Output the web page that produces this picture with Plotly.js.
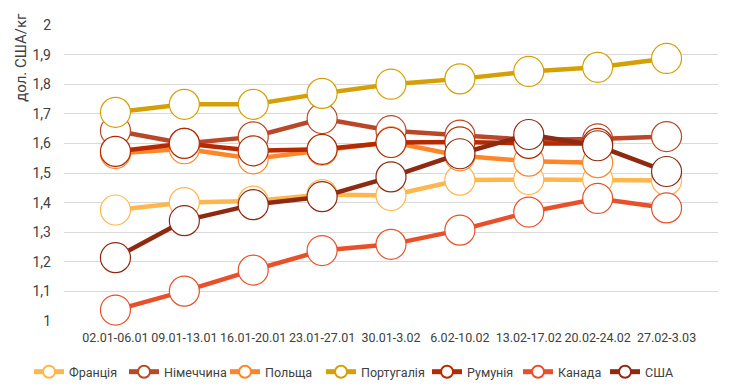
<!DOCTYPE html>
<html>
<head>
<meta charset="utf-8">
<script src="https://cdn.plot.ly/plotly-3.0.1.min.js"></script>
<style>html,body{margin:0;padding:0;background:#fff;}#chart{width:733px;height:390px;}</style>
</head>
<body>
<div id="chart"></div>
<script>
const categories = ["02.01-06.01","09.01-13.01","16.01-20.01","23.01-27.01","30.01-3.02","6.02-10.02","13.02-17.02","20.02-24.02","27.02-3.03"];
const france   = [1.375, 1.400, 1.405, 1.427, 1.424, 1.476, 1.478, 1.478, 1.475];
const germany  = [1.643, 1.600, 1.622, 1.684, 1.643, 1.628, 1.612, 1.615, 1.623];
const poland   = [1.566, 1.582, 1.548, 1.577, 1.605, 1.558, 1.540, 1.535, null];
const portugal = [1.705, 1.732, 1.732, 1.769, 1.800, 1.818, 1.843, 1.857, 1.887];
const romania  = [1.573, 1.600, 1.575, 1.580, 1.603, 1.605, 1.600, 1.600, null];
const canada   = [1.037, 1.101, 1.172, 1.238, 1.259, 1.307, 1.368, 1.414, 1.382];
const usa      = [1.214, 1.339, 1.393, 1.420, 1.487, 1.565, 1.630, 1.592, 1.505];

const seriesNames = ["Франція","Німеччина","Польща","Португалія","Румунія","Канада","США"];
const seriesData = [france, germany, poland, portugal, romania, canada, usa];
const seriesColors = ["#FFB74D","#B9482A","#FF8529","#D4A005","#B52A00","#E8502A","#8E2A12"];
const legendWidths = [50, 56, 51, 61, 46, 42, 34];
const yTitle = "дол. США/кг";

const traces = seriesNames.map((name, i) => ({
  type: "scatter",
  mode: "lines+markers",
  name: name,
  x: categories,
  y: seriesData[i],
  legendwidth: legendWidths[i],
  line: {color: seriesColors[i], width: 4.5},
  marker: {symbol: "circle", size: 30, color: "#ffffff", line: {color: seriesColors[i], width: 1.2}},
  cliponaxis: false
}));

const layout = {
  width: 733, height: 390,
  margin: {l: 64, r: 15, t: 25, b: 69},
  paper_bgcolor: "#fff", plot_bgcolor: "#fff",
  separators: ", ",
  font: {family: "Roboto, 'Noto Sans', sans-serif", size: 13, color: "#404040"},
  showlegend: true,
  legend: {orientation: "h", xref: "container", yref: "container", x: 0.0396, xanchor: "left",
           y: 0.046, yanchor: "middle",
           itemsizing: "constant", font: {size: 12.5, color: "#404040"}, traceorder: "normal",
           itemwidth: 30, tracegroupgap: 0},
  xaxis: {type: "category", showgrid: false, zeroline: false, showline: false, ticks: "",
          tickangle: 0, tickfont: {size: 12.5, color: "#404040"}, automargin: false, ticklabelstandoff: 7},
  yaxis: {range: [1, 2], dtick: 0.1, tick0: 1, showgrid: true, gridcolor: "#D9D9D9", gridwidth: 1,
          zeroline: false, showline: false, ticks: "", ticklabelstandoff: 12,
          tickfont: {size: 14, color: "#404040"}, automargin: false},
  annotations: [{text: yTitle, xref: "paper", yref: "paper", x: -0.066, y: 0.892,
                 xanchor: "center", yanchor: "middle", textangle: -90, showarrow: false,
                 font: {size: 15, color: "#404040"}}]
};

Plotly.newPlot("chart", traces, layout, {staticPlot: true, displayModeBar: false});
</script>
</body>
</html>
